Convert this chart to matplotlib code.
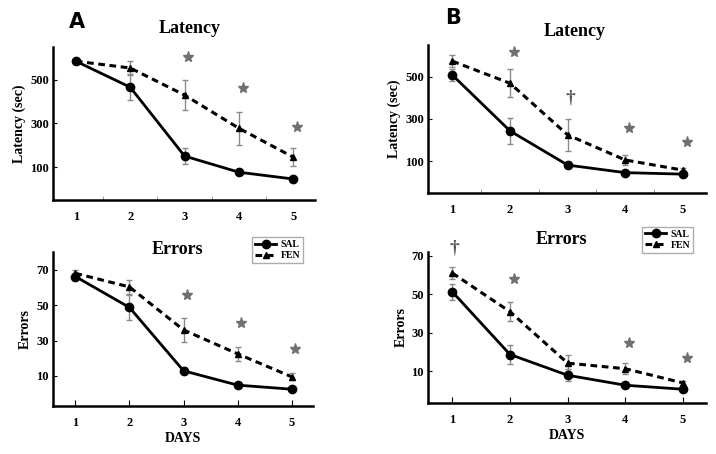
import numpy as np
import matplotlib.pyplot as plt

days = [1, 2, 3, 4, 5]

# panel A
latA_sal = [585, 466, 151, 77, 46]
latA_sal_err = [10, 60, 35, 10, 8]
latA_fen = [585, 554, 430, 278, 146]
latA_fen_err = [10, 30, 70, 75, 40]
latA_mark_x = [3, 4, 5]
latA_mark_y = [602, 463, 282]
latA_mark = ["*", "*", "*"]

errA_sal = [66.2, 48.7, 12.9, 4.8, 2.5]
errA_sal_err = [2, 7, 2, 1, 1]
errA_fen = [68, 60.3, 36, 22.5, 9.5]
errA_fen_err = [2, 4, 7, 4, 2]
errA_mark_x = [3, 4, 5]
errA_mark_y = [56, 40, 25.3]
errA_mark = ["*", "*", "*"]

# panel B
latB_sal = [508, 243, 81, 45, 38]
latB_sal_err = [30, 60, 15, 8, 6]
latB_fen = [574, 469, 224, 105, 57]
latB_fen_err = [30, 67, 75, 25, 8]
latB_mark_x = [2, 3, 4, 5]
latB_mark_y = [618, 398, 256, 192]
latB_mark = ["*", "+", "*", "*"]

errB_sal = [51.2, 18.6, 7.8, 2.6, 0.5]
errB_sal_err = [4, 5, 3, 1, 1]
errB_fen = [61, 40.9, 14.1, 11.2, 3.8]
errB_fen_err = [3, 5, 4, 3, 1]
errB_mark_x = [1, 2, 4, 5]
errB_mark_y = [74.3, 58, 24.5, 17]
errB_mark = ["+", "*", "*", "*"]

SERIF = "Liberation Serif"
GREY = "#8a8a8a"


def panel(ax, sal, sal_err, fen, fen_err, mx, my, mk, title, tpos, ylabel,
          yticks, ylim, minor_ticks, xlabel=None, legpos=None):
    ax.errorbar(days, fen, yerr=fen_err, fmt="none", ecolor=GREY, elinewidth=1,
                capsize=2.5, capthick=1, zorder=1)
    ax.errorbar(days, sal, yerr=sal_err, fmt="none", ecolor=GREY, elinewidth=1,
                capsize=2.5, capthick=1, zorder=1)
    ax.plot(days, sal, "-o", color="black", lw=2, ms=6, label="SAL", zorder=3)
    ax.plot(days, fen, "^", color="black", lw=2.2, ms=4, ls=(0, (2.2, 1.5)),
            label="FEN", zorder=2)
    for x, y, m in zip(mx, my, mk):
        if m == "*":
            ax.plot(x + 0.07, y, marker="*", color="#707070", ms=8, ls="none")
        else:
            ax.text(x + 0.04, y, "\u2020", family=SERIF, fontsize=14,
                    fontweight="bold", color="#555555", ha="center",
                    va="center")
    ax.set_xlim(0.58, 5.4)
    ax.set_ylim(*ylim)
    ax.set_yticks(yticks)
    ax.set_xticks(days)
    ax.spines["top"].set_visible(False)
    ax.spines["right"].set_visible(False)
    ax.spines["left"].set_linewidth(1.8)
    ax.spines["bottom"].set_linewidth(1.8)
    if minor_ticks:
        ax.set_xticks([1.5, 2.5, 3.5, 4.5], minor=True)
        ax.tick_params(axis="x", which="major", length=0, pad=8)
        ax.tick_params(axis="x", which="minor", direction="in", length=3,
                       color=GREY)
    else:
        ax.tick_params(axis="x", which="major", direction="in", length=4,
                       pad=8)
    ax.tick_params(axis="y", direction="in", length=3, pad=3)
    for lab in ax.get_xticklabels() + ax.get_yticklabels():
        lab.set_fontfamily(SERIF)
        lab.set_fontweight("bold")
        lab.set_fontsize(9)
    ax.text(tpos[0], tpos[1], title, transform=ax.transAxes, family=SERIF,
            fontweight="bold", fontsize=13, ha="center", va="center")
    ax.set_ylabel(ylabel, family=SERIF, fontweight="bold", fontsize=10,
                  labelpad=3)
    if xlabel:
        ax.set_xlabel(xlabel, family=SERIF, fontweight="bold", fontsize=10,
                      labelpad=2)
    if legpos:
        leg = ax.legend(loc="upper right", bbox_to_anchor=legpos,
                        prop={"family": SERIF, "weight": "bold", "size": 7},
                        fancybox=False, edgecolor="#999999", handlelength=2.2,
                        borderpad=0.3, labelspacing=0.2, handletextpad=0.4,
                        borderaxespad=0)
        leg.get_frame().set_linewidth(1)


fig = plt.figure(figsize=(7.16, 4.54), dpi=100)
axA1 = fig.add_axes([0.074, 0.5595, 0.366, 0.337])
axA2 = fig.add_axes([0.0736, 0.1057, 0.364, 0.339])
axB1 = fig.add_axes([0.598, 0.5756, 0.388, 0.325])
axB2 = fig.add_axes([0.598, 0.113, 0.388, 0.332])

panel(axA1, latA_sal, latA_sal_err, latA_fen, latA_fen_err, latA_mark_x,
      latA_mark_y, latA_mark, "Latency", (0.523, 1.124), "Latency (sec)",
      [100, 300, 500], (-50, 650), True)
panel(axA2, errA_sal, errA_sal_err, errA_fen, errA_fen_err, errA_mark_x,
      errA_mark_y, errA_mark, "Errors", (0.48, 1.02), "Errors",
      [10, 30, 50, 70], (-7, 80), False, xlabel="DAYS", legpos=(0.96, 1.097))
panel(axB1, latB_sal, latB_sal_err, latB_fen, latB_fen_err, latB_mark_x,
      latB_mark_y, latB_mark, "Latency", (0.528, 1.09), "Latency (sec)",
      [100, 300, 500], (-50, 650), True)
panel(axB2, errB_sal, errB_sal_err, errB_fen, errB_fen_err, errB_mark_x,
      errB_mark_y, errB_mark, "Errors", (0.478, 1.086), "Errors",
      [10, 30, 50, 70], (-6.5, 72), False, xlabel="DAYS",
      legpos=(0.953, 1.166))

fig.text(77 / 716, 1 - 22 / 454, "A", fontsize=15, fontweight="bold",
         family="DejaVu Sans", ha="center", va="center")
fig.text(453 / 716, 1 - 18 / 454, "B", fontsize=15, fontweight="bold",
         family="DejaVu Sans", ha="center", va="center")

fig.savefig("out.png", dpi=100)
